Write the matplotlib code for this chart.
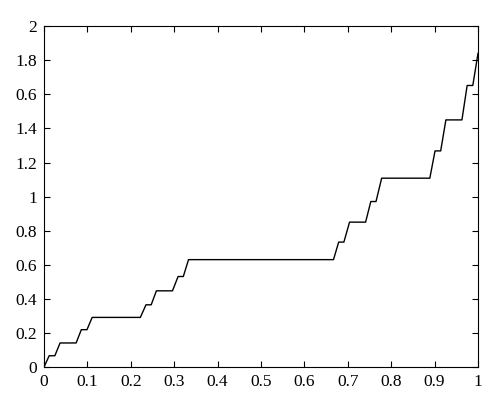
import matplotlib
matplotlib.use('Agg')
import matplotlib.pyplot as plt

# plateau end points of the staircase
x = [0.0, 0.012, 0.025, 0.037, 0.074, 0.086, 0.099, 0.111,
     0.222, 0.235, 0.247, 0.259, 0.296, 0.309, 0.321, 0.333,
     0.667, 0.679, 0.691, 0.704, 0.741, 0.753, 0.765, 0.778,
     0.889, 0.901, 0.914, 0.926, 0.963, 0.975, 0.988, 1.0]
y = [0.0, 0.066, 0.066, 0.141, 0.141, 0.219, 0.219, 0.291,
     0.291, 0.365, 0.365, 0.447, 0.447, 0.531, 0.531, 0.630,
     0.630, 0.733, 0.733, 0.850, 0.850, 0.971, 0.971, 1.108,
     1.108, 1.268, 1.268, 1.450, 1.450, 1.652, 1.652, 1.840]

xticks = [0, 0.1, 0.2, 0.3, 0.4, 0.5, 0.6, 0.7, 0.8, 0.9, 1]
xlabels = ['0', '0.1', '0.2', '0.3', '0.4', '0.5', '0.6', '0.7', '0.8', '0.9', '1']
yticks = [0, 0.2, 0.4, 0.6, 0.8, 1, 1.2, 1.4, 1.6, 1.8, 2]
ylabels = ['0', '0.2', '0.4', '0.6', '0.8', '1', '1.2', '1.4', '0.6', '1.8', '2']

plt.rcParams['font.family'] = ['Liberation Serif', 'DejaVu Serif']

fig = plt.figure(figsize=(5.0, 4.09), dpi=100)
ax = fig.add_axes([0.088, 0.1027, 0.868, 0.8333])
ax.plot(x, y, color='black', linewidth=1.0)

ax.set_xlim(0, 1)
ax.set_ylim(0, 2)
ax.set_xticks(xticks)
ax.set_xticklabels(xlabels)
ax.set_yticks(yticks)
ax.set_yticklabels(ylabels)
ax.tick_params(direction='in', top=True, right=True, length=4,
               width=0.8, labelsize=12.5, pad=5)
for s in ax.spines.values():
    s.set_linewidth(0.8)

fig.savefig('out.png', dpi=100)
